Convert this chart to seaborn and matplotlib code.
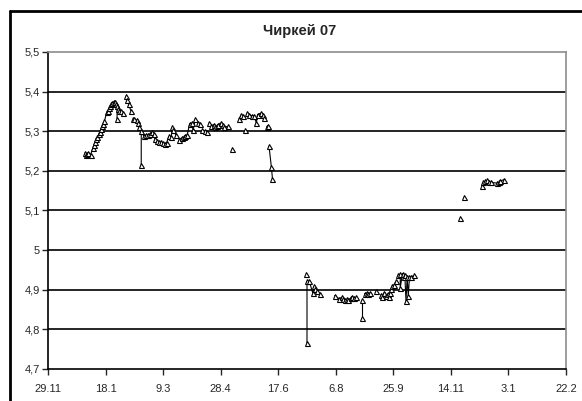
import matplotlib
matplotlib.use("Agg")
import matplotlib.pyplot as plt
import matplotlib.ticker as mticker
from matplotlib.lines import Line2D
import pandas as pd
import seaborn as sns

# Water level observations, Chirkey 2007 (runs = consecutive measurement series)
obs_date = [
    "31.12.2006", "01.01.2007", "02.01.2007", "03.01.2007", "05.01.2007", "07.01.2007",
    "08.01.2007", "09.01.2007", "10.01.2007", "11.01.2007", "12.01.2007", "13.01.2007",
    "14.01.2007", "15.01.2007", "16.01.2007", "17.01.2007", "19.01.2007", "20.01.2007",
    "21.01.2007", "22.01.2007", "23.01.2007", "24.01.2007", "25.01.2007", "26.01.2007",
    "27.01.2007", "28.01.2007", "28.01.2007",
    "29.01.2007", "30.01.2007", "31.01.2007", "02.02.2007",
    "05.02.2007", "06.02.2007", "07.02.2007", "09.02.2007",
    "11.02.2007", "12.02.2007", "14.02.2007", "15.02.2007", "16.02.2007",
    "18.02.2007", "18.02.2007", "20.02.2007", "22.02.2007", "24.02.2007", "26.02.2007",
    "27.02.2007", "01.03.2007", "02.03.2007", "04.03.2007", "05.03.2007", "07.03.2007",
    "09.03.2007", "11.03.2007", "12.03.2007", "14.03.2007", "16.03.2007", "17.03.2007",
    "18.03.2007", "20.03.2007",
    "23.03.2007", "25.03.2007", "27.03.2007", "28.03.2007", "30.03.2007", "01.04.2007",
    "03.04.2007", "04.04.2007", "06.04.2007", "08.04.2007", "10.04.2007",
    "12.04.2007", "14.04.2007", "16.04.2007",
    "18.04.2007", "20.04.2007", "22.04.2007", "23.04.2007", "25.04.2007", "26.04.2007",
    "28.04.2007", "30.04.2007", "01.05.2007", "04.05.2007",
    "08.05.2007",
    "14.05.2007", "16.05.2007", "17.05.2007",
    "19.05.2007",
    "21.05.2007", "23.05.2007", "25.05.2007", "27.05.2007", "29.05.2007", "30.05.2007",
    "02.06.2007", "04.06.2007", "05.06.2007",
    "07.06.2007", "08.06.2007",
    "09.06.2007", "11.06.2007", "12.06.2007",
    "11.07.2007",
    "12.07.2007", "12.07.2007", "14.07.2007", "17.07.2007", "18.07.2007", "19.07.2007",
    "21.07.2007", "23.07.2007",
    "05.08.2007", "09.08.2007", "11.08.2007", "12.08.2007", "14.08.2007", "16.08.2007",
    "17.08.2007", "19.08.2007", "20.08.2007", "22.08.2007", "24.08.2007",
    "29.08.2007", "29.08.2007",
    "31.08.2007", "02.09.2007", "03.09.2007", "05.09.2007",
    "10.09.2007",
    "14.09.2007", "15.09.2007", "17.09.2007", "19.09.2007", "20.09.2007", "21.09.2007",
    "22.09.2007", "23.09.2007", "24.09.2007", "26.09.2007", "27.09.2007",
    "29.09.2007", "01.10.2007", "01.10.2007", "03.10.2007", "04.10.2007", "05.10.2007",
    "06.10.2007", "07.10.2007", "08.10.2007", "09.10.2007", "10.10.2007", "13.10.2007",
    "22.11.2007",
    "25.11.2007",
    "11.12.2007", "12.12.2007", "14.12.2007", "15.12.2007", "17.12.2007", "19.12.2007",
    "24.12.2007", "26.12.2007", "27.12.2007", "30.12.2007",
]

level = [
    5.245, 5.240, 5.242, 5.245, 5.241, 5.258,
    5.265, 5.272, 5.280, 5.285, 5.292, 5.298,
    5.305, 5.312, 5.318, 5.325, 5.348, 5.352,
    5.358, 5.364, 5.369, 5.372, 5.374, 5.373,
    5.369, 5.364, 5.331,
    5.356, 5.352, 5.350, 5.347,
    5.389, 5.379, 5.368, 5.352,
    5.332, 5.331, 5.328, 5.320, 5.311,
    5.214, 5.300, 5.289, 5.291, 5.290, 5.294,
    5.297, 5.293, 5.280, 5.276, 5.273, 5.273,
    5.270, 5.268, 5.271, 5.287, 5.285, 5.310,
    5.302, 5.291,
    5.279, 5.283, 5.285, 5.288, 5.291, 5.319,
    5.321, 5.302, 5.331, 5.321, 5.319,
    5.302, 5.300, 5.298,
    5.321, 5.314, 5.317, 5.311, 5.314, 5.317,
    5.321, 5.317, 5.311, 5.312,
    5.255,
    5.331, 5.342, 5.338,
    5.304,
    5.346, 5.342, 5.339, 5.339, 5.321, 5.342,
    5.346, 5.342, 5.334,
    5.311, 5.314,
    5.262, 5.211, 5.180,
    4.940,
    4.766, 4.921, 4.921, 4.892, 4.909, 4.902,
    4.896, 4.890,
    4.885, 4.877, 4.881, 4.876, 4.875, 4.876,
    4.875, 4.879, 4.882, 4.880, 4.881,
    4.829, 4.875,
    4.890, 4.892, 4.890, 4.892,
    4.898,
    4.887, 4.882, 4.893, 4.885, 4.890, 4.881,
    4.891, 4.902, 4.909, 4.913, 4.921,
    4.936, 4.940, 4.905, 4.941, 4.932, 4.936,
    4.871, 4.932, 4.883, 4.933, 4.932, 4.936,
    5.081,
    5.133,
    5.161, 5.171, 5.174, 5.176, 5.171, 5.171,
    5.169, 5.171, 5.174, 5.178,
]

run = (
    [1] * 27 + [2] * 4 + [3] * 4 + [4] * 5 + [5] * 20 + [6] * 11 + [7] * 3
    + [8] * 10 + [9] + [10] * 3 + [11] + [12] * 9 + [13] * 2 + [14] * 3
    + [15] + [16] * 8 + [17] * 11 + [18] * 2 + [19] * 4 + [20] + [21] * 11
    + [22] * 12 + [23] + [24] + [25] * 10
)

axis_start = "29.11.2006"
axis_end = "22.02.2008"
y_ticks = [4.7, 4.8, 4.9, 5.0, 5.1, 5.2, 5.3, 5.4, 5.5]

df = pd.DataFrame({
    "date": pd.to_datetime(obs_date, format="%d.%m.%Y"),
    "level": level,
    "run": run,
})

sns.set_style("white")
plt.rcParams["font.family"] = ["Liberation Sans", "DejaVu Sans"]

fig = plt.figure(figsize=(5.82, 4.01), dpi=100)
ax = fig.add_axes([48 / 582, 32 / 401, 518 / 582, 317 / 401])

sns.lineplot(
    data=df, x="date", y="level", units="run", estimator=None, sort=False,
    color="black", linewidth=0.8, marker="^", markersize=3.6,
    markerfacecolor="white", markeredgecolor="black", markeredgewidth=0.8,
    ax=ax, legend=False,
)

x0 = pd.to_datetime(axis_start, format="%d.%m.%Y")
x1 = pd.to_datetime(axis_end, format="%d.%m.%Y")
ax.set_xlim(x0, x1)
ax.set_ylim(4.7, 5.5)

xt = pd.date_range(x0, x1, freq="50D")
ax.set_xticks(xt)
ax.set_xticklabels([f"{d.day}.{d.month}" for d in xt], fontsize=8)
ax.set_yticks(y_ticks)
ax.yaxis.set_major_formatter(mticker.FuncFormatter(
    lambda v, _: (f"{v:.1f}".rstrip("0").rstrip(".")).replace(".", ",")))
ax.tick_params(axis="y", labelsize=8, length=4, width=1, direction="out", pad=2, left=True)
ax.tick_params(axis="x", length=4, width=1, direction="out", pad=7, bottom=True)

for v in y_ticks[1:-1]:
    ax.axhline(v, color="black", linewidth=1.2, zorder=0)

ax.set_xlabel("")
ax.set_ylabel("")
for side in ("left", "bottom"):
    ax.spines[side].set_color("black")
    ax.spines[side].set_linewidth(1.2)
for side in ("top", "right"):
    ax.spines[side].set_color("#8c8c8c")
    ax.spines[side].set_linewidth(1.2)

fig.text(300 / 582, 1 - 31 / 401, "Чиркей 07", ha="center", va="center",
         fontsize=10.5, fontweight="bold")

# chart area frame (left and top edges)
fig.add_artist(Line2D([9.5 / 582, 9.5 / 582], [0, 1 - 10.5 / 401], transform=fig.transFigure,
                      color="black", linewidth=2))
fig.add_artist(Line2D([9.5 / 582, 1], [1 - 10.5 / 401, 1 - 10.5 / 401], transform=fig.transFigure,
                      color="black", linewidth=2))

fig.savefig("out.png", dpi=100)
